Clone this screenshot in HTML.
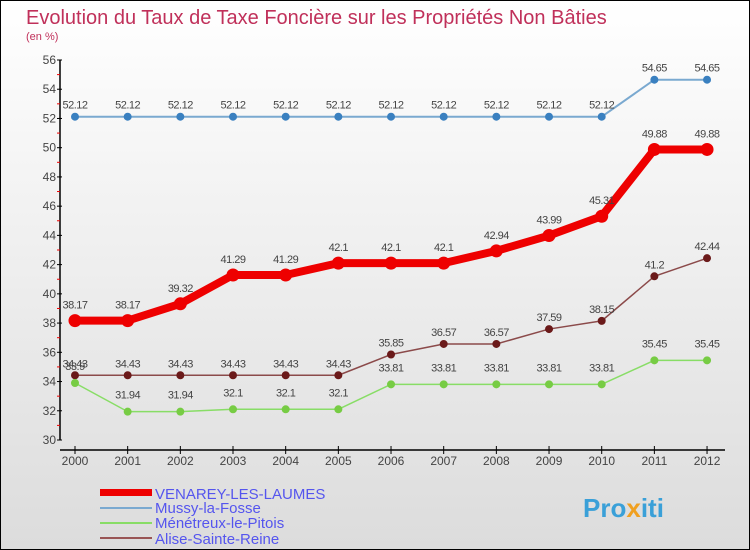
<!DOCTYPE html>
<html><head><meta charset="utf-8"><style>
body{margin:0;}
svg{display:block;font-family:"Liberation Sans",sans-serif;}
</style></head><body>
<svg id="c" width="750" height="550">
<defs><linearGradient id="bg" x1="0" y1="0" x2="0" y2="1"><stop offset="0" stop-color="#ffffff"/><stop offset="1" stop-color="#dcdcdc"/></linearGradient></defs>
<rect x="0.5" y="0.5" width="749" height="549" fill="url(#bg)" stroke="#000"/>
<text x="26" y="24" font-size="20" fill="#c0305a">Evolution du Taux de Taxe Foncière sur les Propriétés Non Bâties</text>
<text x="26" y="40" font-size="11" fill="#c0305a">(en %)</text>
<g id="axes"></g><g id="series"></g>
<g>
<rect x="100" y="489" width="52" height="7" fill="#e00"/>
<text x="155" y="499" font-size="15" fill="#5555ee">VENAREY-LES-LAUMES</text>
<line x1="100" y1="508" x2="152" y2="508" stroke="#7aa9d0" stroke-width="2"/>
<text x="155" y="513" font-size="15" fill="#5555ee">Mussy-la-Fosse</text>
<line x1="100" y1="523" x2="152" y2="523" stroke="#88dd66" stroke-width="2"/>
<text x="155" y="528" font-size="15" fill="#5555ee">Ménétreux-le-Pitois</text>
<line x1="100" y1="538" x2="152" y2="538" stroke="#995555" stroke-width="2"/>
<text x="155" y="544" font-size="15" fill="#5555ee">Alise-Sainte-Reine</text>
</g>
<text x="583" y="517" font-size="26" font-weight="bold" fill="#3aa0d8">Pro<tspan fill="#f0a020">x</tspan>iti</text>
</svg>
<script>
const years=[2000,2001,2002,2003,2004,2005,2006,2007,2008,2009,2010,2011,2012];
const yTicks=[30,32,34,36,38,40,42,44,46,48,50,52,54,56];
const venarey=[38.17,38.17,39.32,41.29,41.29,42.1,42.1,42.1,42.94,43.99,45.31,49.88,49.88];
const mussy=[52.12,52.12,52.12,52.12,52.12,52.12,52.12,52.12,52.12,52.12,52.12,54.65,54.65];
const menetreux=[33.9,31.94,31.94,32.1,32.1,32.1,33.81,33.81,33.81,33.81,33.81,35.45,35.45];
const alise=[34.43,34.43,34.43,34.43,34.43,34.43,35.85,36.57,36.57,37.59,38.15,41.2,42.44];
const NS="http://www.w3.org/2000/svg";
const X=i=>75+i*52.67;
const Y=v=>440-(v-30)*(380/26);
function mk(p,tag,a){const e=document.createElementNS(NS,tag);for(const k in a)e.setAttribute(k,a[k]);p.appendChild(e);return e;}
const ax=document.getElementById('axes');
const ya=mk(ax,'line',{x1:60,y1:60,x2:60,y2:440,stroke:'#000','stroke-width':1.5});


const xa=mk(ax,'line',{x1:60,y1:450,x2:725,y2:450,stroke:'#000','stroke-width':1.5});


yTicks.forEach((t,i)=>{
 const y=Y(t);
 mk(ax,'line',{x1:57,y1:y,x2:62,y2:y,stroke:'#000'});
 if(i<yTicks.length-1)mk(ax,'line',{x1:57,y1:Y(t+1),x2:60,y2:Y(t+1),stroke:'#e00'});
 const tx=mk(ax,'text',{x:56,y:y+4,'font-size':12,'text-anchor':'end',fill:'#444'});
 tx.textContent=t;
 
 
});
years.forEach((yr,i)=>{
 mk(ax,'line',{x1:X(i),y1:446,x2:X(i),y2:454,stroke:'#000'});
 const tx=mk(ax,'text',{x:X(i),y:465,'font-size':12,'text-anchor':'middle',fill:'#444'});
 tx.textContent=yr;
 
 
});
const sg=document.getElementById('series');
function series(name,vals,color,w,r,dot,lblDy){
 const g=mk(sg,'g',{});
 
 
 const p=mk(g,'polyline',{points:vals.map((v,i)=>X(i)+','+Y(v)).join(' '),fill:'none',stroke:color,'stroke-width':w,'stroke-linejoin':'round'});
 
 
 vals.forEach((v,i)=>{
  const c=mk(g,'circle',{cx:X(i),cy:Y(v),r:r,fill:dot,stroke:dot});
  
  
  const t=mk(g,'text',{x:X(i),y:Y(v)+lblDy,'font-size':11,'text-anchor':'middle',fill:'#444','letter-spacing':'-0.5'});
  t.textContent=v;
  
  
 });
}
series('mussy',mussy,'#7aa9d0',2,3.5,'#3a80c0',-8);
series('alise',alise,'#8b4a4a',1.5,3.5,'#6b1a1a',-8);
series('menetreux',menetreux,'#88dd66',1.5,3.5,'#77cc44',-13);
series('venarey',venarey,'#ee0000',8,6,'#ee0000',-12);
</script>
</body></html>
